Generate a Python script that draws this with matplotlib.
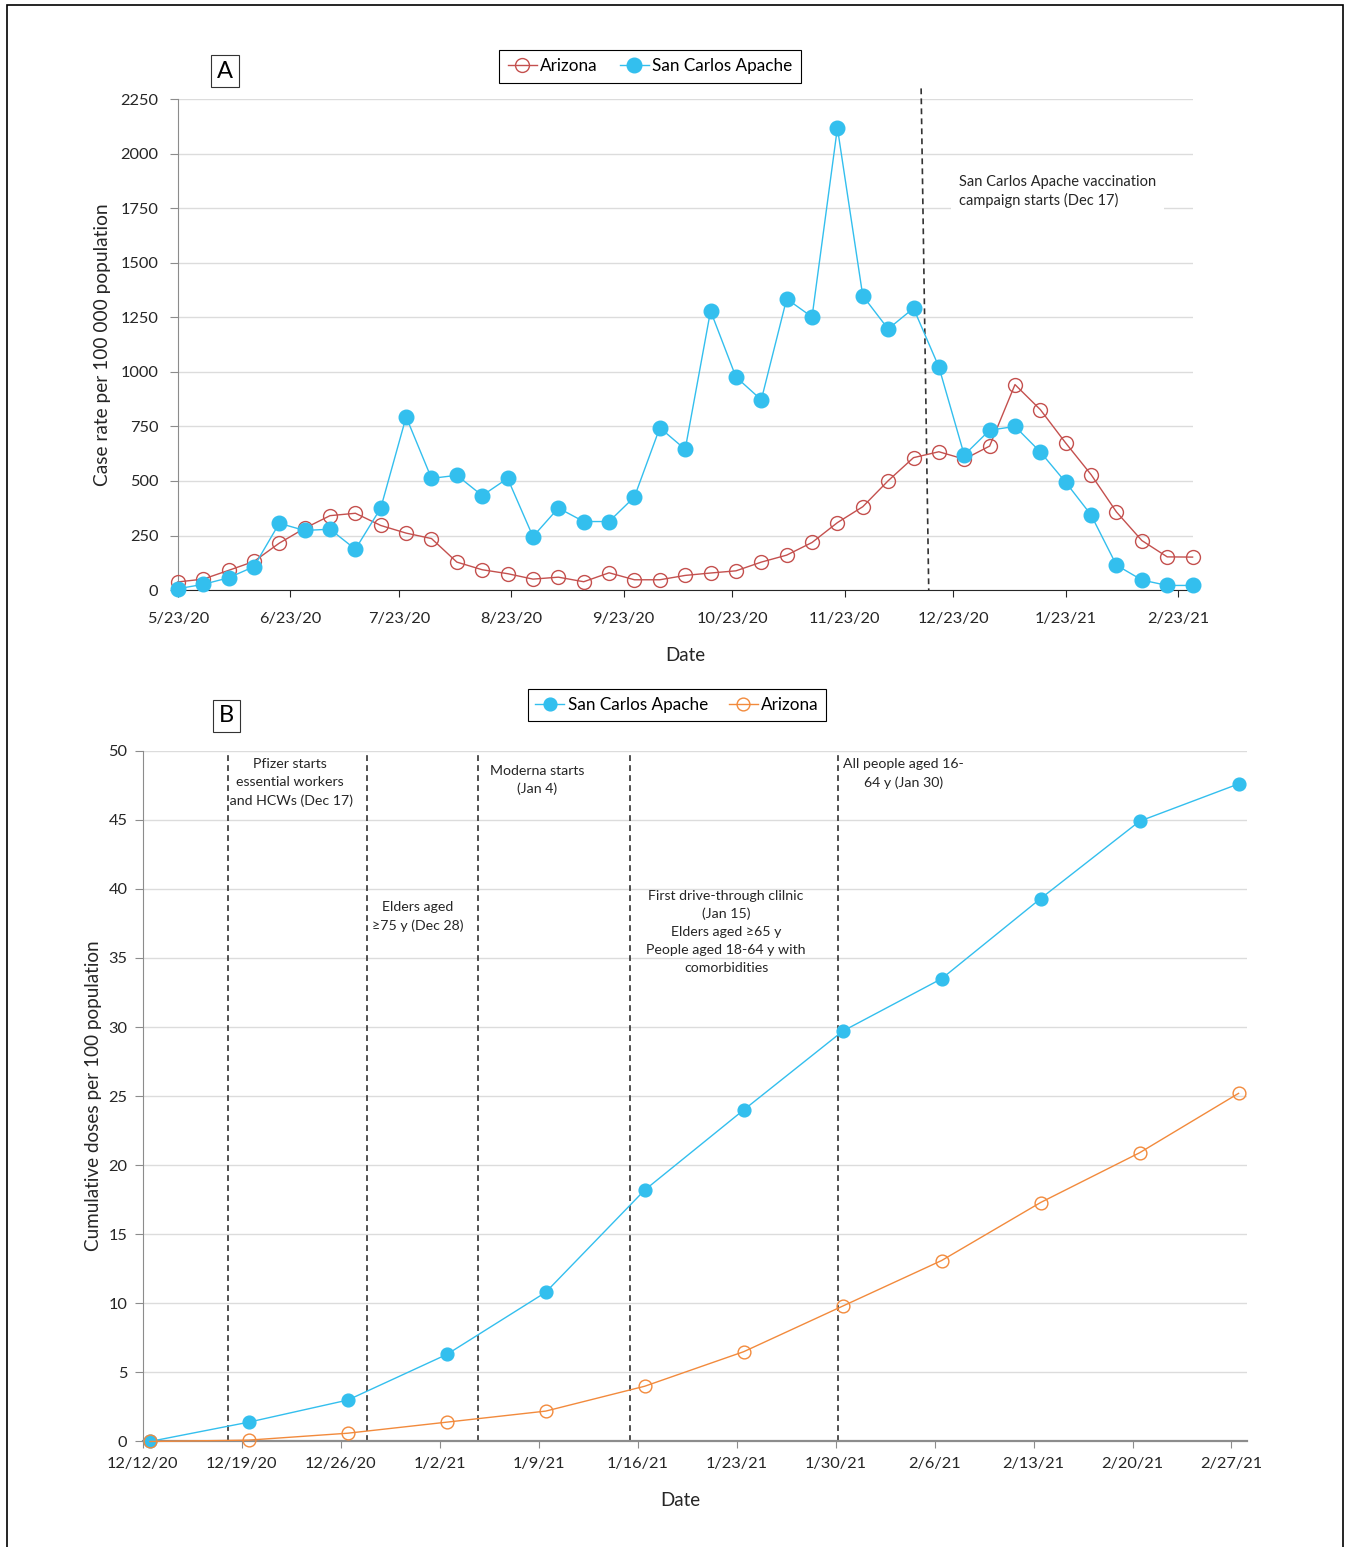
import matplotlib
matplotlib.use("Agg")
import matplotlib.pyplot as plt
import numpy as np
import pandas as pd
from matplotlib.patches import Rectangle

plt.rcParams["font.family"] = ["Lato", "DejaVu Sans"]

# ---------------- data: panel A (weekly case rate) ----------------
a_start = pd.Timestamp("2020-05-23")
a_dates = pd.date_range(a_start, periods=41, freq="7D")

san_carlos_cases = [6, 26, 56, 107, 306, 273, 279, 187, 376, 794,
                    512, 526, 433, 512, 245, 376, 314, 314, 427, 744,
                    645, 1280, 977, 872, 1335, 1252, 2119, 1349, 1197, 1292,
                    1023, 619, 733, 750, 633, 494, 344, 114, 46, 21, 21]
arizona_cases = [37, 50, 90, 131, 215, 283, 341, 352, 296, 261,
                 236, 128, 93, 75, 50, 59, 38, 79, 47, 47,
                 67, 78, 88, 128, 160, 218, 309, 382, 501, 607,
                 634, 600, 660, 942, 827, 674, 529, 358, 227, 152, 151]

a_tick_dates = ["2020-05-23", "2020-06-23", "2020-07-23", "2020-08-23", "2020-09-23",
                "2020-10-23", "2020-11-23", "2020-12-23", "2021-01-23", "2021-02-23"]
a_tick_labels = ["5/23/20", "6/23/20", "7/23/20", "8/23/20", "9/23/20",
                 "10/23/20", "11/23/20", "12/23/20", "1/23/21", "2/23/21"]

# ---------------- data: panel B (cumulative doses) ----------------
b_start = pd.Timestamp("2020-12-12")
b_dates = pd.date_range(b_start, periods=12, freq="7D") + pd.Timedelta(hours=12)
san_carlos_doses = [0, 1.4, 3.0, 6.3, 10.8, 18.2, 24.0, 29.7, 33.5, 39.3, 44.9, 47.6]
arizona_doses = [0, 0.1, 0.6, 1.4, 2.2, 4.0, 6.5, 9.8, 13.1, 17.3, 20.9, 25.2]
b_tick_labels = ["12/12/20", "12/19/20", "12/26/20", "1/2/21", "1/9/21", "1/16/21",
                 "1/23/21", "1/30/21", "2/6/21", "2/13/21", "2/20/21", "2/27/21"]

# event lines (days after 12/12/20, as drawn)
b_event_days = [6.0, 15.84, 23.73, 34.48, 49.16]
b_notes = [
    (10.4, 49.5, "Pfizer starts\nessential workers\n and HCWs (Dec 17)"),
    (19.45, 39.1, "Elders aged\n≥75 y (Dec 28)"),
    (27.9, 49.0, "Moderna starts\n(Jan 4)"),
    (41.26, 39.95, "First drive-through clilnic\n(Jan 15)\nElders aged ≥65 y\nPeople aged 18-64 y with\ncomorbidities"),
    (53.8, 49.5, "All people aged 16-\n64 y (Jan 30)"),
]

BLUE = "#33BFEE"
RED = "#C4504E"
ORANGE = "#F28A3C"
GRID = "#DCDCDC"
TXT = "#262626"

fig = plt.figure(figsize=(13.48, 15.47), dpi=100)

# ================= Panel A =================
axA = fig.add_axes([0.1319, 0.6186, 0.7528, 0.3172])
xa = (a_dates - a_start).days
axA.plot(xa, arizona_cases, color=RED, lw=1.0, marker="o", ms=10,
         mfc="none", mec=RED, mew=1.0, label="Arizona", zorder=3, clip_on=False)
axA.plot(xa, san_carlos_cases, color=BLUE, lw=1.0, marker="o", ms=10.5,
         mfc=BLUE, mec=BLUE, label="San Carlos Apache", zorder=4, clip_on=False)

axA.set_xlim(0, 280)
axA.set_ylim(0, 2250)
axA.set_yticks(np.arange(0, 2251, 250))
axA.set_xticks((pd.to_datetime(a_tick_dates) - a_start).days)
axA.set_xticklabels(a_tick_labels)
axA.grid(axis="y", color=GRID, lw=1)
axA.set_axisbelow(True)
for s in ["top", "right"]:
    axA.spines[s].set_visible(False)
axA.spines["left"].set_color("#8C8C8C")
axA.spines["bottom"].set_color(TXT)
axA.tick_params(axis="y", direction="out", length=6, color="#8C8C8C",
                labelsize=11.8, pad=8, labelcolor=TXT)
axA.tick_params(axis="x", direction="out", length=5, color=TXT,
                labelsize=11.8, pad=11, labelcolor=TXT)
axA.set_ylabel("Case rate per 100 000 population", fontsize=13.8, color=TXT)
axA.yaxis.set_label_coords(-0.066, 0.5)
axA.set_xlabel("Date", fontsize=13.5, color=TXT)
axA.xaxis.set_label_coords(0.5, -0.117)

# vaccination start line (slightly slanted as drawn in original)
axA.plot([205.1, 207.2], [2300, 0], color="#333333", lw=1.2, dashes=(3.5, 2.5),
         clip_on=False, zorder=2)
axA.text(215.5, 1905, "San Carlos Apache vaccination\ncampaign starts (Dec 17)",
         fontsize=10.5, color=TXT, ha="left", va="top", linespacing=1.35,
         bbox=dict(facecolor="white", edgecolor="none", pad=6), zorder=5)

legA = axA.legend(loc="center", bbox_to_anchor=(0.4822, 0.9573),
                  bbox_transform=fig.transFigure, ncol=2, frameon=True,
                  fancybox=False, edgecolor="black", framealpha=1,
                  fontsize=12.3, handlelength=1.7, columnspacing=1.3,
                  handletextpad=0.2, borderpad=0.5, borderaxespad=0)
legA.get_frame().set_linewidth(0.8)

fig.text(0.1669, 0.9541, "A", fontsize=17, ha="center", va="center",
         bbox=dict(boxstyle="square,pad=0.25", facecolor="white",
                   edgecolor="#333333", lw=0.8))

# ================= Panel B =================
axB = fig.add_axes([0.1059, 0.0682, 0.8192, 0.4465])
xb = (b_dates - b_start) / pd.Timedelta(days=1)
axB.plot(xb, san_carlos_doses, color=BLUE, lw=1.0, marker="o", ms=9.2,
         mfc=BLUE, mec=BLUE, label="San Carlos Apache", zorder=3, clip_on=False)
axB.plot(xb, arizona_doses, color=ORANGE, lw=1.0, marker="o", ms=9.2,
         mfc="none", mec=ORANGE, mew=1.0, label="Arizona", zorder=4, clip_on=False)

for d in b_event_days:
    axB.axvline(d, color="#333333", lw=1.2, dashes=(3.5, 2.5), zorder=2)
for x, y, t in b_notes:
    axB.text(x, y, t, fontsize=10.2, ha="center", va="top", color=TXT,
             linespacing=1.6, multialignment="center")

axB.set_xlim(0, 78.1)
axB.set_ylim(0, 50)
axB.set_yticks(np.arange(0, 51, 5))
axB.set_xticks(np.arange(0, 78, 7))
axB.set_xticklabels(b_tick_labels)
axB.grid(axis="y", color=GRID, lw=1)
axB.set_axisbelow(True)
for s in ["top", "right"]:
    axB.spines[s].set_visible(False)
axB.spines["left"].set_color("#8C8C8C")
axB.spines["bottom"].set_color("#8C8C8C")
axB.spines["bottom"].set_linewidth(1.6)
axB.tick_params(axis="y", direction="out", length=6, color="#8C8C8C",
                labelsize=11.8, pad=5, labelcolor=TXT)
axB.tick_params(axis="x", direction="out", length=5, color="#8C8C8C",
                labelsize=11.8, pad=6, labelcolor=TXT)
axB.set_ylabel("Cumulative doses per 100 population", fontsize=13.6, color=TXT)
axB.yaxis.set_label_coords(-0.037, 0.5)
axB.set_xlabel("Date", fontsize=13.5, color=TXT)
axB.xaxis.set_label_coords(0.4866, -0.073)

legB = axB.legend(loc="center", bbox_to_anchor=(0.5022, 0.5443),
                  bbox_transform=fig.transFigure, ncol=2, frameon=True,
                  fancybox=False, edgecolor="black", framealpha=1,
                  fontsize=12.3, handlelength=1.7, columnspacing=1.2,
                  handletextpad=0.2, borderpad=0.45, borderaxespad=0)
legB.get_frame().set_linewidth(0.8)

fig.text(0.1677, 0.5372, "B", fontsize=17, ha="center", va="center",
         bbox=dict(boxstyle="square,pad=0.25", facecolor="white",
                   edgecolor="#333333", lw=0.8))

# outer frame
fig.add_artist(Rectangle((7 / 1348, -0.01), (1343 - 7) / 1348, 1.01 - 5 / 1547,
                         transform=fig.transFigure, fill=False,
                         edgecolor="black", lw=1.2))

fig.savefig("out.png", dpi=100)
